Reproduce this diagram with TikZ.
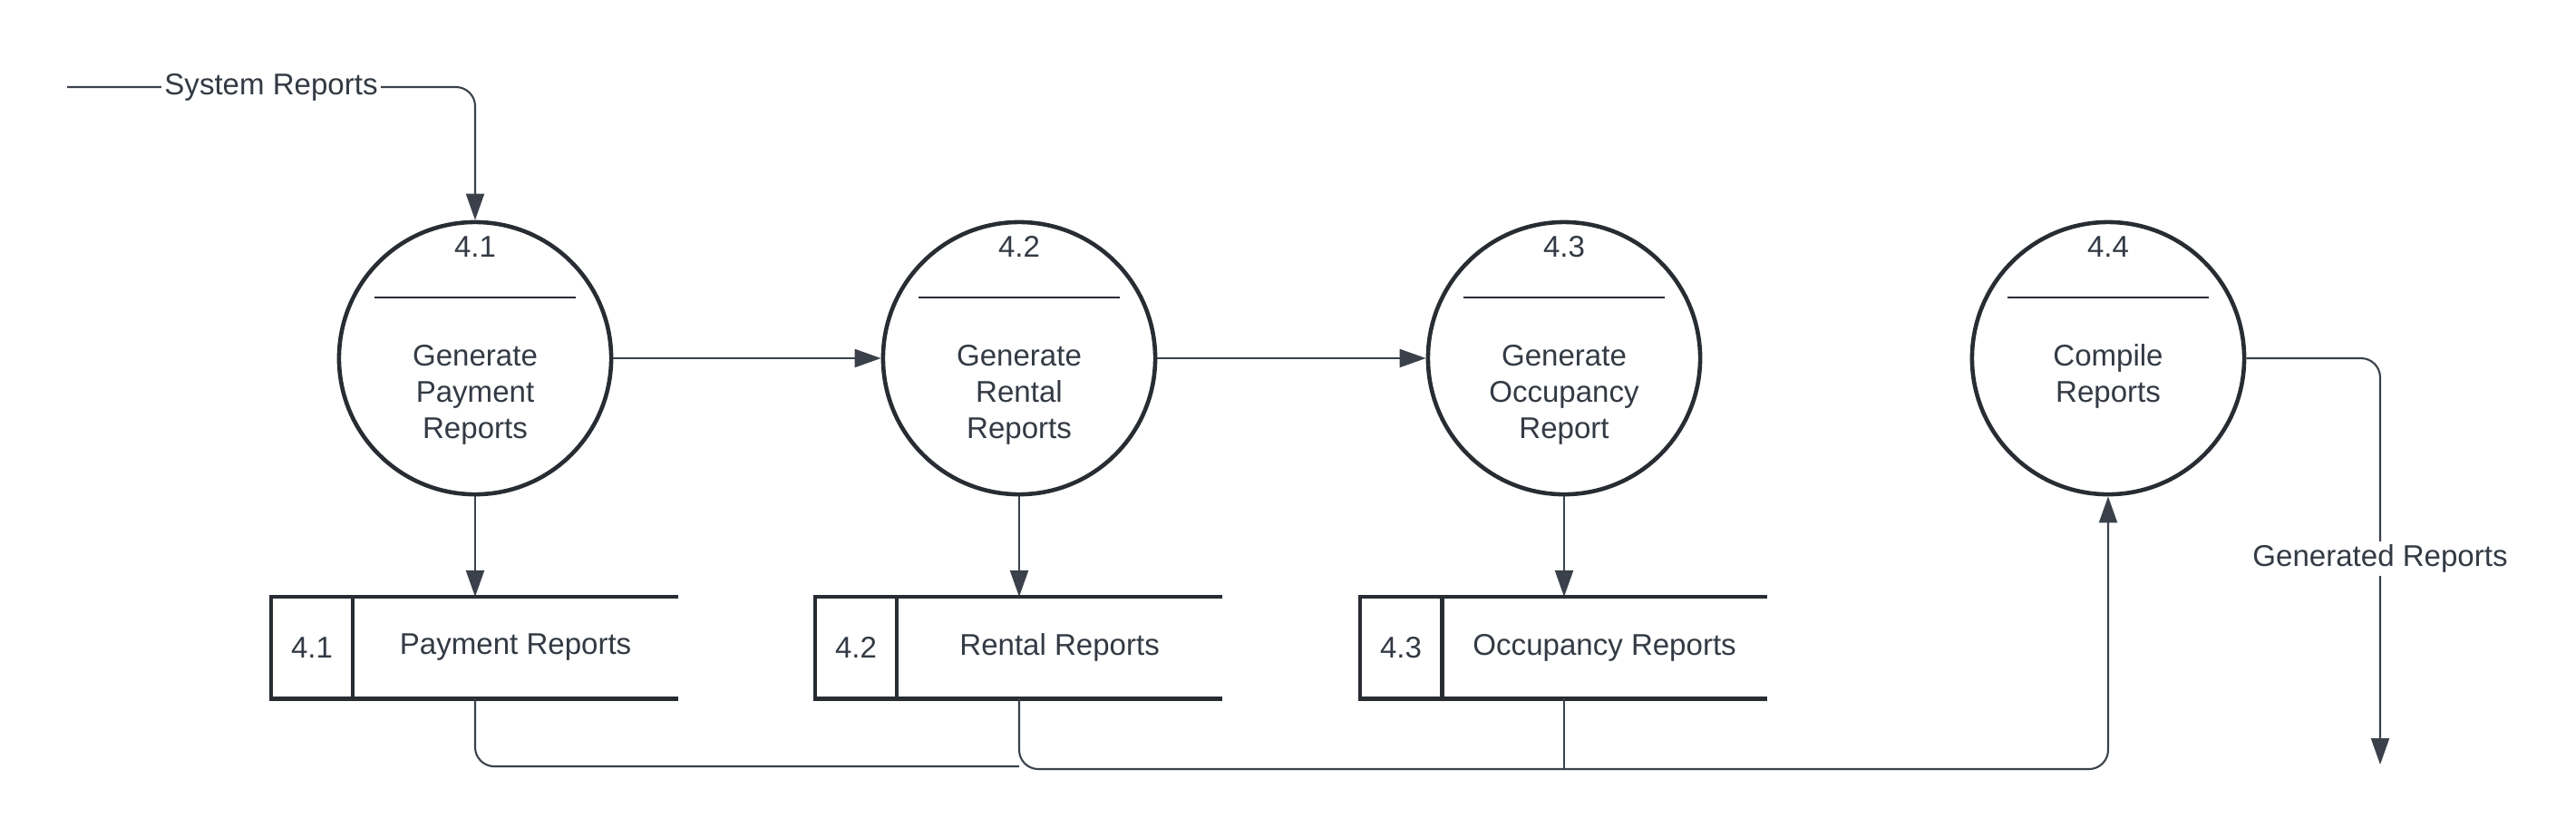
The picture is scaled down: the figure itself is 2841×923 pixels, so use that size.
\documentclass[tikz,border=0pt]{standalone}
\usepackage{fontspec}
\setmainfont{Liberation Sans}
\usepackage{xcolor}
\usepackage{tikz}
\usetikzlibrary{arrows.meta,positioning}
\definecolor{inkline}{HTML}{3A414A}
\definecolor{inkedge}{HTML}{282C33}
\definecolor{inktext}{HTML}{333A44}

\begin{document}
\begin{tikzpicture}[
    x=0.01cm, y=-0.01cm,
    font=\fontsize{9.4}{11.4}\selectfont, text=inktext,
    process/.style={draw=inkedge, line width=1.3pt, circle, minimum size=3cm, inner sep=0pt},
    pid/.style={inner sep=0pt},
    pname/.style={align=center, inner sep=0pt},
    divline/.style={draw=inkedge, line width=0.6pt},
    storeid/.style={draw=inkedge, line width=1.4pt, minimum width=0.9cm, minimum height=1.12cm, inner sep=0pt, outer sep=0pt},
    storename/.style={minimum width=3.59cm, minimum height=1.12cm, inner sep=0pt, outer sep=0pt},
    storeline/.style={draw=inkedge, line width=1.4pt},
    flow/.style={draw=inkline, line width=0.6pt},
    arrow/.style={flow, -{Triangle[length=2.9mm, width=2mm]}},
    flowlabel/.style={fill=white, inner sep=1pt, sharp corners}
]
    \useasboundingbox (0,0) rectangle (2841,923);

    % processes
    \node[process] (p1) at (524,395) {};
    \node[process] (p2) at (1124,395) {};
    \node[process] (p3) at (1725,395) {};
    \node[process] (p4) at (2325,395) {};

    \node[pid] (n1) at ([yshift=1.23cm]p1.center) {4.1};
    \node[pid] (n2) at ([yshift=1.23cm]p2.center) {4.2};
    \node[pid] (n3) at ([yshift=1.23cm]p3.center) {4.3};
    \node[pid] (n4) at ([yshift=1.23cm]p4.center) {4.4};

    \draw[divline] (p1.center) ++(-111,-67) -- ++(222,0);
    \draw[divline] (p2.center) ++(-111,-67) -- ++(222,0);
    \draw[divline] (p3.center) ++(-111,-67) -- ++(222,0);
    \draw[divline] (p4.center) ++(-111,-67) -- ++(222,0);

    \node[pname] (t1) at ([yshift=-0.40cm]p1.center) {Generate\\Payment\\Reports};
    \node[pname] (t2) at ([yshift=-0.40cm]p2.center) {Generate\\Rental\\Reports};
    \node[pname] (t3) at ([yshift=-0.40cm]p3.center) {Generate\\Occupancy\\Report};
    \node[pname] (t4) at ([yshift=-0.20cm]p4.center) {Compile\\Reports};

    % data stores
    \node[storeid] (d1) at (344,714) {4.1};
    \node[storename, right=0pt of d1] (s1) {Payment Reports};
    \node[storeid] (d2) at (944,714) {4.2};
    \node[storename, right=0pt of d2] (s2) {Rental Reports};
    \node[storeid] (d3) at (1545,714) {4.3};
    \node[storename, right=0pt of d3] (s3) {Occupancy Reports};

    \draw[storeline] (s1.north west) -- (s1.north east) (s1.south west) -- (s1.south east);
    \draw[storeline] (s2.north west) -- (s2.north east) (s2.south west) -- (s2.south east);
    \draw[storeline] (s3.north west) -- (s3.north east) (s3.south west) -- (s3.south east);

    % flows
    \coordinate (src) at (74,96);
    \coordinate (sink) at (2625,843);
    \coordinate (bus1) at (0,845);
    \coordinate (bus2) at (0,848);

    \draw[arrow, rounded corners=6] (src) -| (p1.north)
        node[flowlabel, pos=0.25] (lsys) {System Reports};
    \draw[arrow] (p1) -- (p2);
    \draw[arrow] (p2) -- (p3);
    \draw[arrow] (p1) -- (p1 |- s1.north);
    \draw[arrow] (p2) -- (p2 |- s2.north);
    \draw[arrow] (p3) -- (p3 |- s3.north);

    \draw[flow, rounded corners=6] (p1 |- s1.south) |- (p2 |- bus1);
    \draw[arrow, rounded corners=6] (p2 |- s2.south) |- (p4 |- bus2) -- (p4.south);
    \draw[flow] (p3 |- s3.south) -- (p3 |- bus2);

    \draw[arrow, rounded corners=6] (p4.east) -| (sink)
        node[flowlabel, pos=0.747] (lgen) {Generated Reports};
\end{tikzpicture}
\end{document}
